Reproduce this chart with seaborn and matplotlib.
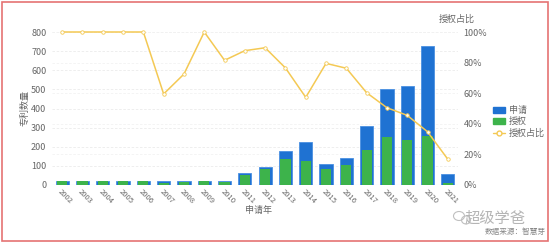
import numpy as np
import pandas as pd
import matplotlib
matplotlib.use("Agg")
import matplotlib.pyplot as plt
import seaborn as sns
from matplotlib.patches import Patch, Rectangle, Ellipse
from matplotlib.lines import Line2D
from matplotlib.ticker import FuncFormatter

years = ["2002", "2003", "2004", "2005", "2006", "2007", "2008", "2009", "2010", "2011",
         "2012", "2013", "2014", "2015", "2016", "2017", "2018", "2019", "2020", "2021"]
applied = [20, 20, 20, 20, 20, 20, 20, 20, 20, 61,
           93, 176, 225, 108, 140, 310, 504, 520, 729, 56]
granted = [20, 20, 20, 20, 20, 12, 15, 20, 16, 54,
           84, 134, 127, 85, 106, 185, 253, 236, 255, 9]
ratio = [1.00, 1.00, 1.00, 1.00, 1.00, 0.595, 0.725, 1.00, 0.815, 0.878,
         0.897, 0.765, 0.573, 0.795, 0.763, 0.603, 0.505, 0.455, 0.348, 0.168]

left_ticks = [0, 100, 200, 300, 400, 500, 600, 700, 800]
right_ticks = [0, 0.2, 0.4, 0.6, 0.8, 1.0]

sns.set_theme(style="white")
plt.rcParams['font.family'] = ['Noto Sans CJK SC', 'DejaVu Sans']

BLUE = "#1f72d2"
GREEN = "#3db34b"
YELLOW = "#f4c954"
TXT = "#666666"

df = pd.DataFrame({"year": years, "applied": applied, "granted": granted, "ratio": ratio})

fig = plt.figure(figsize=(5.51, 2.42), dpi=100)
ax = fig.add_axes([52 / 551, 1 - 185 / 242, (458 - 52) / 551, (185 - 32) / 242])

sns.barplot(data=df, x="year", y="applied", color=BLUE, width=0.65, ax=ax,
            saturation=1, edgecolor="#4a90e2", linewidth=0.6, zorder=2)
sns.barplot(data=df, x="year", y="granted", color=GREEN, width=0.5, ax=ax,
            saturation=1, linewidth=0, zorder=3)

ax.set_ylim(0, 800)
ax.set_xlim(-0.5, len(years) - 0.5)
ax.set_yticks(left_ticks)
ax.tick_params(axis="y", labelsize=6.5, colors=TXT, length=0, pad=4)
ax.tick_params(axis="x", labelsize=5.5, colors=TXT, length=0, pad=2)
for t in ax.get_xticklabels():
    t.set_rotation(-45)
    t.set_ha("left")
    t.set_rotation_mode("anchor")
for y in left_ticks[1:]:
    ax.axhline(y, color="#ebebeb", lw=0.6, ls=(0, (3, 2)), zorder=0)
for v in right_ticks[1:]:
    ax.axhline(v * 800, color="#f2f2f2", lw=0.6, ls=(0, (3, 2)), zorder=0)
for s in ax.spines.values():
    s.set_visible(False)
ax.axhline(0, color="#d9e6f5", lw=0.8, zorder=1)
ax.set_xlabel("申请年", fontsize=6.5, color=TXT, va="center")
ax.xaxis.set_label_coords((258 - 52) / 406, -(211 - 185) / 153)
ax.set_ylabel("")

ax2 = ax.twinx()
sns.lineplot(x=np.arange(len(years)), y=df["ratio"].to_numpy(), ax=ax2, color=YELLOW,
             lw=1.1, marker="o", markersize=2.5, markerfacecolor="white",
             markeredgecolor=YELLOW, markeredgewidth=0.6, clip_on=False, zorder=5)
ax2.set_ylim(0, 1)
ax2.set_yticks(right_ticks)
ax2.yaxis.set_major_formatter(FuncFormatter(lambda v, p: f"{int(round(v * 100))}%"))
ax2.tick_params(axis="y", labelsize=6.5, colors=TXT, length=0, pad=4)
ax2.grid(False)
for s in ax2.spines.values():
    s.set_visible(False)
ax2.set_ylabel("")

fig.text(25 / 551, 1 - 108 / 242, "专利数量", rotation=90, fontsize=6.5, color=TXT,
         ha="center", va="center")
fig.text(457 / 551, 1 - 19 / 242, "授权占比", fontsize=6.5, color=TXT,
         ha="center", va="center")

handles = [Patch(facecolor=BLUE, edgecolor=BLUE),
           Patch(facecolor=GREEN, edgecolor=GREEN),
           Line2D([0], [0], color=YELLOW, lw=1, marker="o", markersize=3.5,
                  markerfacecolor="white", markeredgecolor=YELLOW)]
fig.legend(handles, ["申请", "授权", "授权占比"], loc="center left",
           bbox_to_anchor=(488 / 551, 1 - 122 / 242), frameon=False, fontsize=6.5,
           handlelength=1.4, handleheight=0.7, handletextpad=0.4, labelspacing=0.25,
           labelcolor=TXT, borderpad=0)

# watermark
fig.text(495 / 551, 1 - 218 / 242, "超级学爸", fontsize=11, color="#b5b5b5",
         ha="center", va="center")
fig.patches.append(Ellipse((459 / 551, 1 - 216 / 242), 11 / 551, 9 / 242,
                           transform=fig.transFigure, fill=False, edgecolor="#c0c0c0", lw=0.8))
fig.patches.append(Ellipse((466 / 551, 1 - 220 / 242), 9 / 551, 8 / 242,
                           transform=fig.transFigure, fill=False, edgecolor="#c0c0c0", lw=0.8))
fig.text(546 / 551, 1 - 232 / 242, "数据来源：智慧芽", fontsize=5.5, color="#888888",
         ha="right", va="center")

fig.patches.append(Rectangle((2 / 551, 1 / 242), 546 / 551, 239 / 242, transform=fig.transFigure,
                             fill=False, edgecolor="#e57373", lw=1.2))

fig.savefig("out.png", dpi=100)
